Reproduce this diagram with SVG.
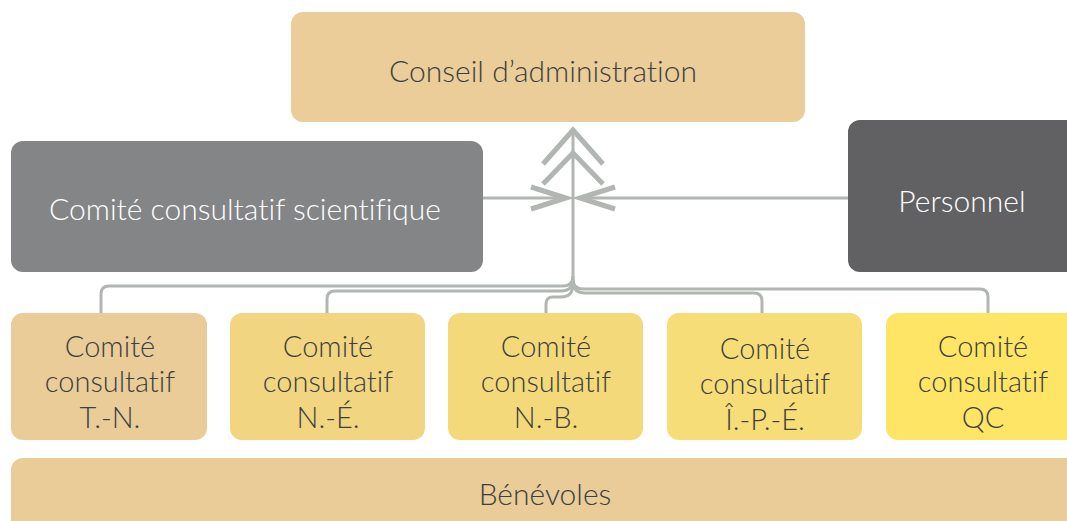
<svg xmlns="http://www.w3.org/2000/svg" width="1067" height="521" viewBox="0 0 1067 521">
<style>
.t{font-family:Lato,"Open Sans","Liberation Sans",sans-serif;font-size:29px;font-weight:300;fill:#3f3f3f;text-anchor:middle;font-variant-ligatures:no-common-ligatures}
.b{font-size:30px}
.w{fill:#ffffff}
.c{fill:none;stroke:#b1b6b2;stroke-width:3}
.h{fill:none;stroke:#b1b6b2;stroke-width:5;stroke-linecap:butt;stroke-linejoin:miter}
</style>
<rect width="1067" height="521" fill="#ffffff"/>
<g id="connectors">
<path class="c" d="M101,313 V294 Q101,286 109,286 H563 Q573,286 573,276"/>
<path class="c" d="M327,313 V299 Q327,291 335,291 H561 Q573,291 573,279"/>
<path class="c" d="M546,313 V304 Q546,297 553,297 H561 Q573,297 573,284"/>
<path class="c" d="M762,313 V301 Q762,293 754,293 H585 Q573,293 573,281"/>
<path class="c" d="M988,313 V297 Q988,289 980,289 H583 Q573,289 573,279"/>
<path class="c" d="M573,284 V130"/>
<path class="h" d="M543,164 L573,130 L603,164"/>
<path class="h" d="M543,184 L573,153 L603,184"/>
<path class="c" d="M483,198 H566"/>
<path class="c" d="M848,198 H581"/>
<path class="h" d="M531,187 L566,198 L531,209"/>
<path class="h" d="M615,187 L580,198 L615,209"/>
</g>
<g id="conseil">
<rect x="291" y="12" width="514" height="110" rx="12" fill="#eacd98"/>
<text class="t b" x="543" y="82">Conseil d’administration</text>
</g>
<g id="scientifique">
<rect x="11" y="141" width="472" height="131" rx="12" fill="#848587"/>
<text class="t b w" x="245" y="220">Comité consultatif scientifique</text>
</g>
<g id="personnel">
<rect x="848" y="120" width="240" height="152" rx="12" fill="#616163"/>
<text class="t b w" x="962" y="212">Personnel</text>
</g>
<g id="tn">
<rect x="11" y="313" width="196" height="127" rx="12" fill="#e9cc98"/>
<text class="t" x="110" y="357">Comité</text>
<text class="t" x="110" y="392">consultatif</text>
<text class="t" x="110" y="428">T.-N.</text>
</g>
<g id="ne">
<rect x="230" y="313" width="195" height="127" rx="12" fill="#f1d581"/>
<text class="t" x="328" y="357">Comité</text>
<text class="t" x="328" y="392">consultatif</text>
<text class="t" x="328" y="428">N.-É.</text>
</g>
<g id="nb">
<rect x="448" y="313" width="195" height="127" rx="12" fill="#f4d97b"/>
<text class="t" x="546" y="357">Comité</text>
<text class="t" x="546" y="392">consultatif</text>
<text class="t" x="546" y="428">N.-B.</text>
</g>
<g id="ipe">
<rect x="667" y="313" width="195" height="127" rx="12" fill="#f7dd77"/>
<text class="t" x="765" y="359">Comité</text>
<text class="t" x="765" y="394">consultatif</text>
<text class="t" x="765" y="430">Î.-P.-É.</text>
</g>
<g id="qc">
<rect x="886" y="313" width="200" height="127" rx="12" fill="#fee566"/>
<text class="t" x="983" y="357">Comité</text>
<text class="t" x="983" y="392">consultatif</text>
<text class="t" x="983" y="428">QC</text>
</g>
<g id="benevoles">
<rect x="11" y="458" width="1080" height="80" rx="12" fill="#e9cc98"/>
<text class="t b" x="545" y="505">Bénévoles</text>
</g>
</svg>
